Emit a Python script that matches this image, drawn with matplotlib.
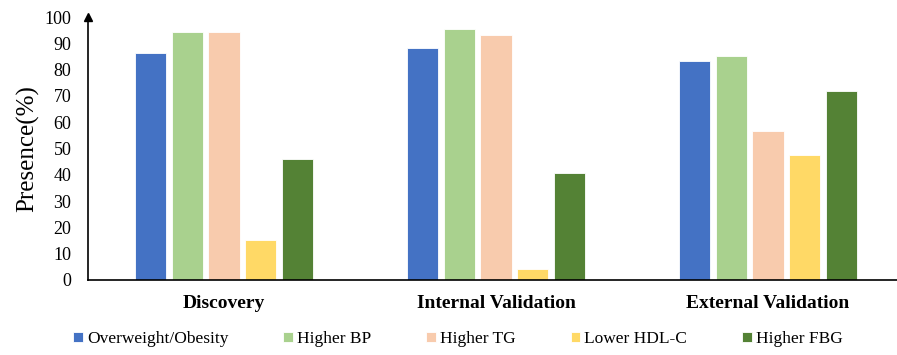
import matplotlib
matplotlib.use("Agg")
import matplotlib.pyplot as plt
import numpy as np

plt.rcParams['font.family'] = ['Liberation Serif', 'DejaVu Serif']

# Prevalence of each metabolic component per cohort (%)
cohorts = ['Discovery', 'Internal Validation', 'External Validation']
components = ['Overweight/Obesity', 'Higher BP', 'Higher TG', 'Lower HDL-C', 'Higher FBG']
overweight = [86.2, 88.1, 83.3]
higher_bp = [94.4, 95.5, 85.3]
higher_tg = [94.4, 93.1, 56.8]
lower_hdl = [15.2, 4.2, 47.5]
higher_fbg = [45.9, 40.8, 71.9]
yticks = list(range(0, 101, 10))

series = [overweight, higher_bp, higher_tg, lower_hdl, higher_fbg]
colors = ['#4472C4', '#A9D18E', '#F8CBAD', '#FFD966', '#548235']

fig = plt.figure(figsize=(8.97, 3.55), dpi=100)
ax = fig.add_axes([88 / 897, 1 - 280 / 355, 816 / 897, 263 / 355])

x = np.arange(len(cohorts))
width = 0.114
pitch = 0.136
for i, (vals, name, col) in enumerate(zip(series, components, colors)):
    ax.bar(x + (i - 2) * pitch, vals, width, color=col, label=name,
           edgecolor='white', linewidth=0.6)

ax.set_xlim(-0.5, 2.5)
ax.set_ylim(0, 100)
ax.set_yticks(yticks)
ax.tick_params(axis='y', length=0, labelsize=13, pad=12)
ax.tick_params(axis='x', length=0, pad=11)
ax.set_xticks(x)
ax.set_xticklabels(cohorts, fontsize=14, fontweight='bold')
ax.set_ylabel('Presence(%)', fontsize=18, labelpad=4)

for side in ['top', 'right']:
    ax.spines[side].set_visible(False)
ax.spines['left'].set_linewidth(1.2)
ax.spines['bottom'].set_linewidth(1.2)
# arrow head at the top of the y axis
ax.plot(0, 1, marker='^', color='black', markersize=6,
        transform=ax.transAxes, clip_on=False)

ax.legend(loc='center', bbox_to_anchor=(458 / 897, 1 - 339 / 355), bbox_transform=fig.transFigure,
          ncol=5, frameon=False, fontsize=12.5, handlelength=0.55, handleheight=0.55,
          handletextpad=0.25, columnspacing=3.15)

fig.savefig('out.png', dpi=100)
